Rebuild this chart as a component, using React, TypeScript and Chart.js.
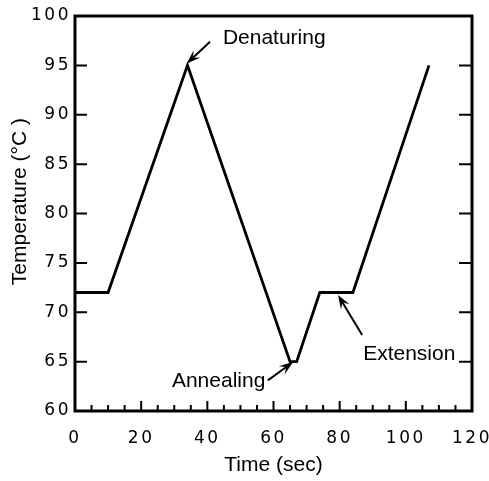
import React, { useEffect, useRef } from 'react';
import { Chart, registerables } from 'chart.js';

Chart.register(...registerables);

// ---- data ----
const timeSec = [0, 10, 34, 65, 67, 74, 84, 107];
const temperature = [72, 72, 95, 65, 65, 72, 72, 95];

const xMin = 0;
const xMax = 120;
const yMin = 60;
const yMax = 100;
const xMinorStep = 5;
const xLabelStep = 20;
const yStep = 5;

const xTitle = 'Time (sec)';
const yTitle = 'Temperature (°C )';

// annotations (in data units)
const annotationTexts = ['Denaturing', 'Annealing', 'Extension'];
const annotationTextAnchors = [
  [44.7, 97.8],
  [29.3, 63.0],
  [87.1, 65.8],
];
const annotationArrowTails = [
  [40.8, 97.4],
  [58.3, 63.1],
  [86.8, 67.7],
];
const annotationArrowTips = [
  [33.8, 95.2],
  [65.9, 64.95],
  [79.5, 71.75],
];
// centre of the y-axis title, in data units of the y axis
const yTitleCentre = 81.2;

const FONT = '"Liberation Sans", Arial, Helvetica, sans-serif';
const TICK_FONT = '"DejaVu Sans", "Liberation Sans", sans-serif';

function drawArrow(ctx: CanvasRenderingContext2D, x1: number, y1: number, x2: number, y2: number) {
  const ang = Math.atan2(y2 - y1, x2 - x1);
  const c = Math.cos(ang);
  const s = Math.sin(ang);
  const head = 14;
  const hw = 5;
  ctx.beginPath();
  ctx.moveTo(x1, y1);
  ctx.lineTo(x2 - c * head * 0.6, y2 - s * head * 0.6);
  ctx.lineWidth = 2;
  ctx.stroke();
  const bx = x2 - c * head;
  const by = y2 - s * head;
  const nx = x2 - c * head * 0.6;
  const ny = y2 - s * head * 0.6;
  const px = -s * hw;
  const py = c * hw;
  ctx.beginPath();
  ctx.moveTo(x2, y2);
  ctx.lineTo(bx + px, by + py);
  ctx.lineTo(nx, ny);
  ctx.lineTo(bx - px, by - py);
  ctx.closePath();
  ctx.fill();
}

const framePlugin = {
  id: 'frameAndNotes',
  afterDatasetsDraw(chart: any) {
    (chart.ctx as any).letterSpacing = '2.5px';
  },
  afterDraw(chart: any) {
    const ctx = chart.ctx as CanvasRenderingContext2D;
    (ctx as any).letterSpacing = '0px';
    const { left, right, top, bottom } = chart.chartArea;
    const xs = chart.scales.x;
    const ys = chart.scales.y;
    ctx.save();
    ctx.strokeStyle = '#000';
    ctx.fillStyle = '#000';
    ctx.lineWidth = 3;
    ctx.strokeRect(left, top, right - left, bottom - top);

    ctx.lineWidth = 2;
    ctx.beginPath();
    for (const t of xs.ticks) {
      const px = xs.getPixelForValue(t.value);
      const len = t.value % xLabelStep === 0 ? 10 : 6;
      ctx.moveTo(px, bottom);
      ctx.lineTo(px, bottom - len);
    }
    for (const t of ys.ticks) {
      const py = ys.getPixelForValue(t.value);
      ctx.moveTo(left, py);
      ctx.lineTo(left + 12, py);
      ctx.moveTo(right, py);
      ctx.lineTo(right - 13, py);
    }
    ctx.stroke();

    // y-axis title
    ctx.save();
    ctx.font = `21px ${FONT}`;
    ctx.textBaseline = 'middle';
    ctx.textAlign = 'center';
    ctx.translate(20, ys.getPixelForValue(yTitleCentre));
    ctx.rotate(-Math.PI / 2);
    ctx.fillText(yTitle, 0, 0);
    ctx.restore();

    ctx.font = `21px ${FONT}`;
    ctx.textBaseline = 'middle';
    ctx.textAlign = 'left';
    for (let i = 0; i < annotationTexts.length; i++) {
      const [tx, ty] = annotationTextAnchors[i];
      ctx.fillText(annotationTexts[i], xs.getPixelForValue(tx), ys.getPixelForValue(ty));
      const [ax, ay] = annotationArrowTails[i];
      const [bx, by] = annotationArrowTips[i];
      drawArrow(
        ctx,
        xs.getPixelForValue(ax),
        ys.getPixelForValue(ay),
        xs.getPixelForValue(bx),
        ys.getPixelForValue(by)
      );
    }
    ctx.restore();
  },
};

export default function App() {
  const canvasRef = useRef<HTMLCanvasElement | null>(null);

  useEffect(() => {
    if (!canvasRef.current) return;
    const points = timeSec.map((t, i) => ({ x: t, y: temperature[i] }));
    const chart = new Chart(canvasRef.current, {
      type: 'line',
      data: {
        datasets: [
          {
            data: points,
            borderColor: '#000',
            borderWidth: 2.8,
            pointRadius: 0,
            tension: 0,
            fill: false,
            borderJoinStyle: 'miter',
          },
        ],
      },
      options: {
        responsive: true,
        maintainAspectRatio: false,
        animation: false,
        events: [],
        layout: { padding: { top: 16, right: 17, left: 0, bottom: 0 } },
        plugins: {
          legend: { display: false },
          tooltip: { enabled: false },
          title: { display: false },
        },
        scales: {
          x: {
            type: 'linear',
            min: xMin,
            max: xMax,
            afterFit: (scale: any) => {
              scale.height = 70;
              scale.paddingRight = 0;
              scale.paddingLeft = 0;
            },
            grid: { display: false, drawTicks: false },
            border: { display: false },
            ticks: {
              stepSize: xMinorStep,
              autoSkip: false,
              maxRotation: 0,
              padding: 17,
              z: 1,
              color: '#000',
              font: { family: TICK_FONT, size: 17 },
              callback: (v: any) => (Number(v) % xLabelStep === 0 ? String(v) : ''),
            },
            title: {
              display: true,
              text: xTitle,
              color: '#000',
              font: { family: FONT, size: 21 },
              padding: { top: 0, bottom: 3 },
            },
          },
          y: {
            type: 'linear',
            min: yMin,
            max: yMax,
            afterFit: (scale: any) => {
              scale.width = 75;
              scale.paddingTop = 0;
              scale.paddingBottom = 0;
            },
            grid: { display: false, drawTicks: false },
            border: { display: false },
            ticks: {
              stepSize: yStep,
              autoSkip: false,
              padding: 4,
              z: 1,
              color: '#000',
              font: { family: TICK_FONT, size: 17 },
            },
            title: { display: false },
          },
        },
      },
      plugins: [framePlugin],
    } as any);
    return () => chart.destroy();
  }, []);

  return (
    <div style={{ position: 'absolute', left: 0, top: 0, width: 489, height: 481, background: '#fff' }}>
      <canvas ref={canvasRef} />
    </div>
  );
}
